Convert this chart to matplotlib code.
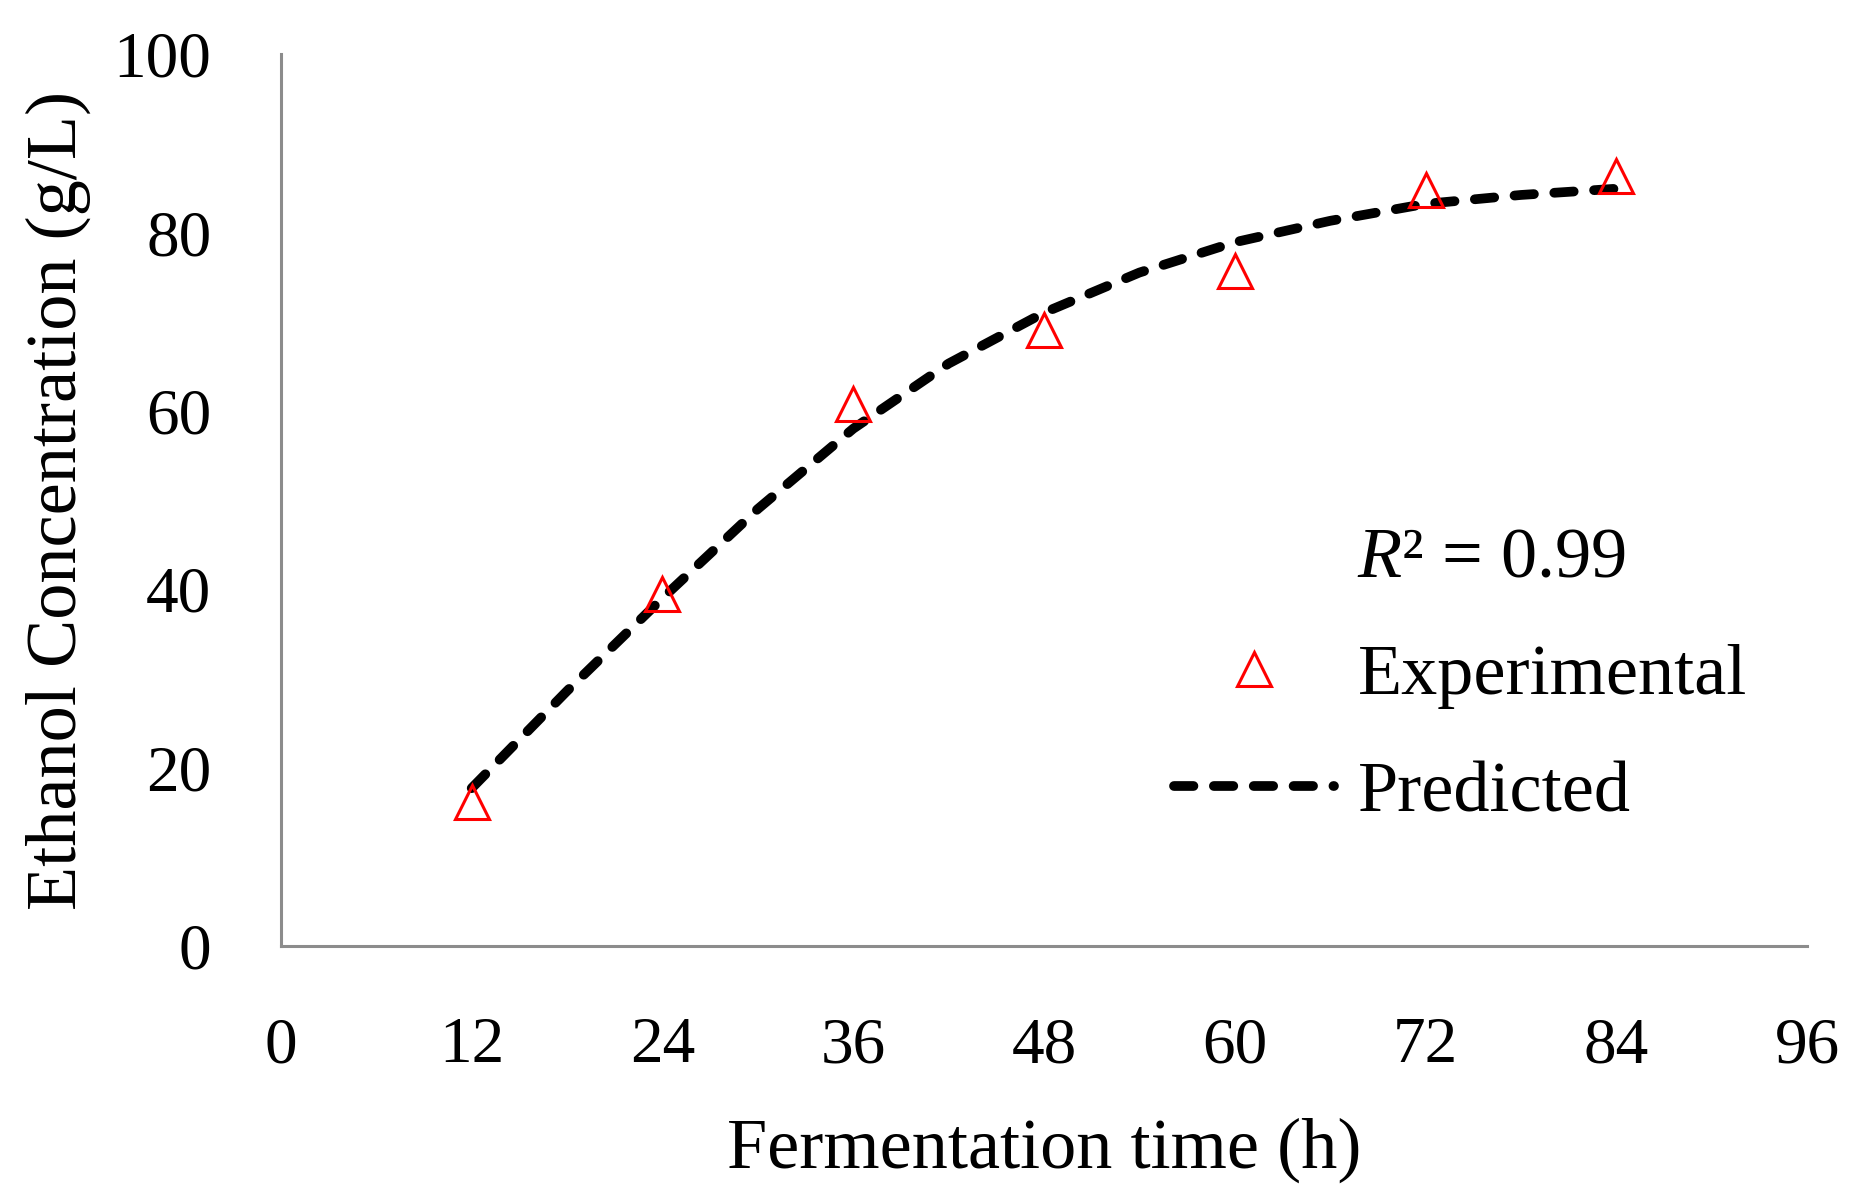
import matplotlib
matplotlib.use('Agg')
import matplotlib.pyplot as plt
from matplotlib.lines import Line2D

plt.rcParams['font.family'] = ['Liberation Serif', 'DejaVu Serif']
plt.rcParams['mathtext.fontset'] = 'custom'
plt.rcParams['mathtext.rm'] = 'Liberation Serif'
plt.rcParams['mathtext.it'] = 'Liberation Serif:italic'

# 实验值（三角形）
exp_time = [12, 24, 36, 48, 60, 72, 84]
exp_ethanol = [16.2, 39.5, 60.8, 69.1, 75.7, 84.8, 86.3]

# 预测曲线（从图上按6小时读取）
pred_time = [12, 18, 24, 30, 36, 42, 48, 54, 60, 66, 72, 78, 84]
pred_ethanol = [17.7, 28.6, 39.0, 49.0, 58.0, 65.3, 71.0, 75.5, 78.9, 81.3, 83.2, 84.2, 84.9]

x_ticks = [0, 12, 24, 36, 48, 60, 72, 84, 96]
y_ticks = [0, 20, 40, 60, 80, 100]

fig = plt.figure(figsize=(18.58, 12.03), dpi=100)
ax = fig.add_axes([0.1512, 0.2136, 0.8214, 0.7415])

ax.plot(pred_time, pred_ethanol, ls=(0, (2.0, 2.1)), c='k', lw=7,
        dash_capstyle='round', label='Predicted', zorder=2)
ax.plot(exp_time, exp_ethanol, ls='none', marker='^', ms=25, mfc='none',
        mec='#ff0000', mew=2.2, label='Experimental', zorder=3)

ax.set_xlim(0, 96)
ax.set_ylim(0, 100)
ax.set_xticks(x_ticks)
ax.set_yticks(y_ticks)
ax.tick_params(length=0, labelsize=47)
ax.tick_params(axis='x', pad=51)
ax.tick_params(axis='y', pad=50)

for side in ['top', 'right']:
    ax.spines[side].set_visible(False)
for side in ['left', 'bottom']:
    ax.spines[side].set_color('#8c8c8c')
    ax.spines[side].set_linewidth(2.2)

ax.set_xlabel('Fermentation time (h)', fontsize=52, labelpad=30)
ax.set_ylabel('Ethanol Concentration (g/L)', fontsize=52, labelpad=16)

# 图例：R²、实验值、预测值
blank = Line2D([], [], color='none')
h_exp = Line2D([], [], ls='none', marker='^', ms=25, mfc='none', mec='#ff0000', mew=2.2)
h_pred = Line2D([], [], ls=(0, (2.0, 2.1)), c='k', lw=7, dash_capstyle='round')
ax.legend([blank, h_exp, h_pred], [r'$\mathit{R}$² = 0.99', 'Experimental', 'Predicted'],
          loc='upper left', bbox_to_anchor=(1174 / 1858, 1 - 526 / 1203),
          bbox_transform=fig.transFigure, frameon=False, fontsize=52,
          handlelength=2.22, handletextpad=0.32, labelspacing=0.72,
          borderpad=0, borderaxespad=0)

fig.savefig('out.png', dpi=100)
